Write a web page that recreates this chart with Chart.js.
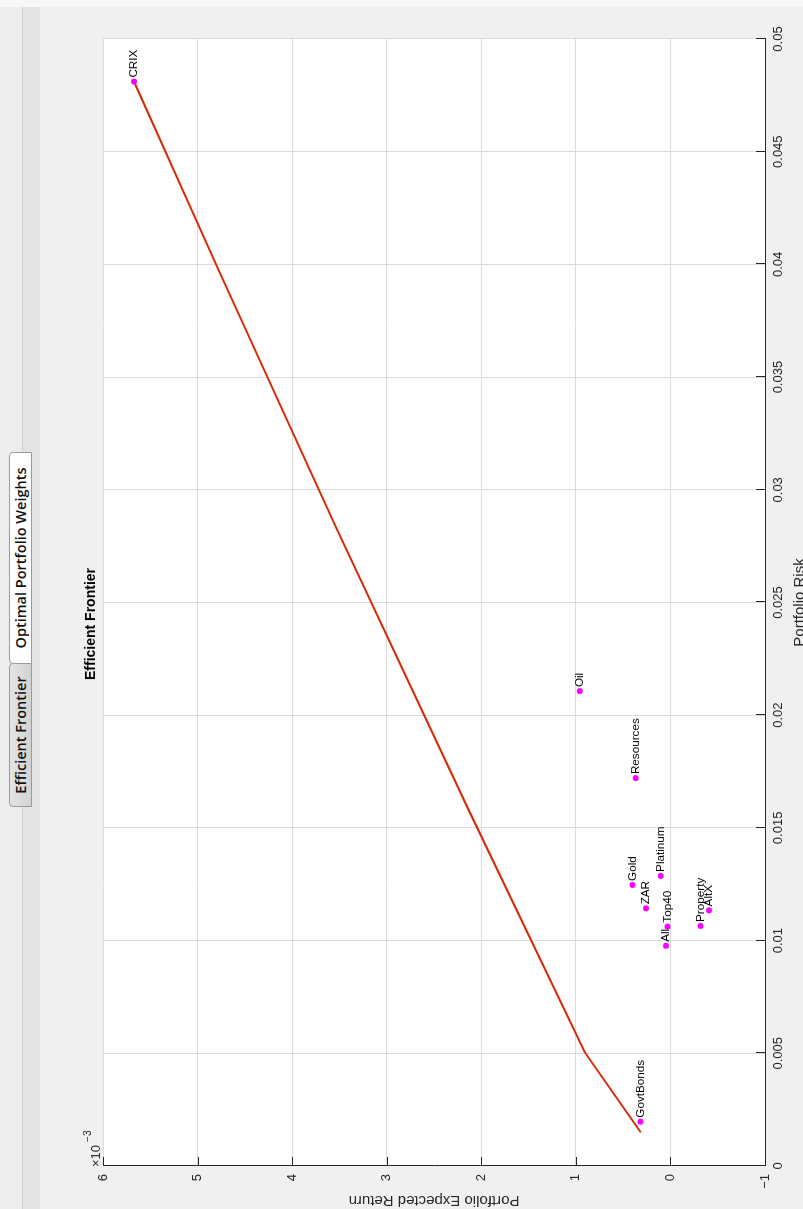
<!DOCTYPE html>
<html>
<head>
<meta charset="utf-8">
<script src="https://cdn.jsdelivr.net/npm/chart.js@4.4.1/dist/chart.umd.min.js"></script>
<style>
html,body{margin:0;padding:0;width:803px;height:1209px;overflow:hidden;background:#f0f0f0}
#fig{position:absolute;left:0;top:0;width:1209px;height:803px;transform-origin:0 0;transform:translate(0px,1209px) rotate(-90deg);background:#f0f0f0;overflow:hidden}
#bar1{position:absolute;left:0;top:0;width:1209px;height:22px;background:#ededed;border-bottom:1px solid #cfcfcf}
#bar2{position:absolute;left:0;top:23px;width:1209px;height:17px;background:#e3e3e3}
.tab{position:absolute;box-sizing:border-box;font-family:'Open Sans',sans-serif;font-weight:600;font-size:14.5px;color:#111;display:flex;align-items:center;justify-content:center;border:1px solid #9a9a9a;border-radius:4px 4px 0 0;white-space:nowrap}
#tab1{left:402px;top:9px;width:144px;height:23px;background:linear-gradient(#e4e4e4,#d3d3d3)}
#tab2{left:545px;top:9px;width:212px;height:23px;background:#fff}
#edge{position:absolute;left:1202px;top:0;width:7px;height:803px;background:#f7f7f7;z-index:5}
#wrap{position:absolute;left:0;top:40px;width:1209px;height:790px}
canvas{display:block}
</style>
</head>
<body>
<div id="fig">
  <div id="bar1"></div>
  <div id="bar2"></div>
  <div class="tab" id="tab1">Efficient Frontier</div>
  <div class="tab" id="tab2">Optimal Portfolio Weights</div>
  <div id="wrap"><canvas id="c" width="1209" height="790" style="width:1209px;height:790px"></canvas></div>
  <div id="edge"></div>
</div>
<script>
// ---- data ----
const assetNames  = ['CRIX', 'Oil', 'Resources', 'Platinum', 'Gold', 'ZAR', 'Top40', 'All', 'Property', 'AltX', 'GovtBonds'];
const assetRisk   = [0.04811, 0.02107, 0.01721, 0.01287, 0.01247, 0.01143, 0.01062, 0.00977, 0.01065, 0.01134, 0.001965];
const assetReturn = [0.005672, 0.000959, 0.000367, 0.000103, 0.000402, 0.000258, 0.000032, 0.000047, -0.000317, -0.000408, 0.000317];

const frontierRisk   = [0.001495, 0.005044, 0.01581, 0.02830, 0.03950, 0.04811];
const frontierReturn = [0.000314, 0.000906, 0.002135, 0.003533, 0.004751, 0.005672];

const xLabel = 'Portfolio Risk';
const yLabel = 'Portfolio Expected Return';
const chartTitle = 'Efficient Frontier';
const yMultiplierBase = '\u00d710';
const yMultiplierExp = '\u22123';

const FONT = "'Liberation Sans', Arial, Helvetica, sans-serif";
const AXIS = '#262626';

const bgPlugin = {
  id: 'bg',
  beforeDraw(chart) {
    const {ctx, chartArea: a} = chart;
    ctx.save();
    ctx.fillStyle = '#ffffff';
    ctx.fillRect(a.left, a.top, a.right - a.left, a.bottom - a.top);
    ctx.restore();
  }
};

const innerTicks = {
  id: 'innerTicks',
  afterDraw(chart) {
    const {ctx, chartArea: a, scales} = chart;
    const L = 9;
    ctx.save();
    ctx.strokeStyle = AXIS;
    ctx.lineWidth = 1;
    ctx.beginPath();
    scales.x.ticks.forEach(t => {
      const px = Math.round(scales.x.getPixelForValue(t.value)) + 0.5;
      ctx.moveTo(px, a.bottom);
      ctx.lineTo(px, a.bottom - L);
    });
    scales.y.ticks.forEach(t => {
      const py = Math.round(scales.y.getPixelForValue(t.value)) + 0.5;
      ctx.moveTo(a.left, py);
      ctx.lineTo(a.left + L, py);
    });
    ctx.stroke();
    // multiplier label
    ctx.fillStyle = AXIS;
    ctx.textBaseline = 'alphabetic';
    ctx.textAlign = 'left';
    ctx.font = '13px ' + FONT;
    ctx.fillText(yMultiplierBase, a.left - 1, a.top - 3);
    const w = ctx.measureText(yMultiplierBase).width;
    ctx.font = '10px ' + FONT;
    ctx.fillText(yMultiplierExp, a.left - 1 + w + 3, a.top - 12);
    ctx.restore();
  }
};

const pointLabels = {
  id: 'pointLabels',
  afterDatasetsDraw(chart) {
    const {ctx} = chart;
    const meta = chart.getDatasetMeta(1);
    ctx.save();
    ctx.fillStyle = '#000';
    ctx.font = '11.7px ' + FONT;
    ctx.textBaseline = 'middle';
    ctx.textAlign = 'left';
    meta.data.forEach((pt, i) => {
      ctx.fillText(assetNames[i], pt.x + 4, pt.y);
    });
    ctx.restore();
  }
};

new Chart(document.getElementById('c'), {
  type: 'scatter',
  data: {
    datasets: [
      {
        type: 'line',
        label: 'Frontier',
        data: frontierRisk.map((x, i) => ({x, y: frontierReturn[i]})),
        borderColor: '#d62b04',
        borderWidth: 2,
        pointRadius: 0,
        fill: false,
        tension: 0,
        order: 2
      },
      {
        type: 'scatter',
        label: 'Assets',
        data: assetRisk.map((x, i) => ({x, y: assetReturn[i]})),
        backgroundColor: '#ff00ff',
        borderColor: '#ff00ff',
        borderWidth: 0,
        pointRadius: 3,
        order: 1
      }
    ]
  },
  options: {
    responsive: false,
    animation: false,
    devicePixelRatio: 1,
    layout: {padding: {left: 0, right: 39, top: 43, bottom: 0}},
    plugins: {
      legend: {display: false},
      tooltip: {enabled: false},
      title: {
        display: true,
        text: chartTitle,
        color: '#000',
        font: {family: FONT, size: 14, weight: 'bold'},
        padding: {top: 0, bottom: 3.2}
      }
    },
    scales: {
      x: {
        type: 'linear',
        position: 'bottom',
        min: 0,
        max: 0.05,
        ticks: {
          stepSize: 0.005,
          autoSkip: false,
          maxRotation: 0,
          padding: 6,
          color: AXIS,
          font: {family: FONT, size: 13},
          callback: v => String(Math.round(v * 1000) / 1000)
        },
        grid: {color: '#dcdcdc', drawTicks: false, lineWidth: 1},
        border: {color: AXIS, width: 1},
        title: {display: true, text: xLabel, color: AXIS, font: {family: FONT, size: 15}, padding: {top: 0, bottom: 21}},
        afterFit: s => { s.height = 65; }
      },
      y: {
        type: 'linear',
        position: 'left',
        min: -0.001,
        max: 0.006,
        ticks: {
          stepSize: 0.001,
          autoSkip: false,
          padding: 8,
          color: AXIS,
          font: {family: FONT, size: 13},
          callback: v => { const n = Math.round(v * 1000); return n < 0 ? '\u2212' + Math.abs(n) : String(n); }
        },
        grid: {color: '#dcdcdc', drawTicks: false, lineWidth: 1},
        border: {color: AXIS, width: 1},
        title: {display: true, text: yLabel, color: AXIS, font: {family: FONT, size: 15}, padding: {top: 0, bottom: 0}},
        afterFit: s => { s.width = 43; }
      }
    }
  },
  plugins: [bgPlugin, innerTicks, pointLabels]
});
</script>
</body>
</html>
